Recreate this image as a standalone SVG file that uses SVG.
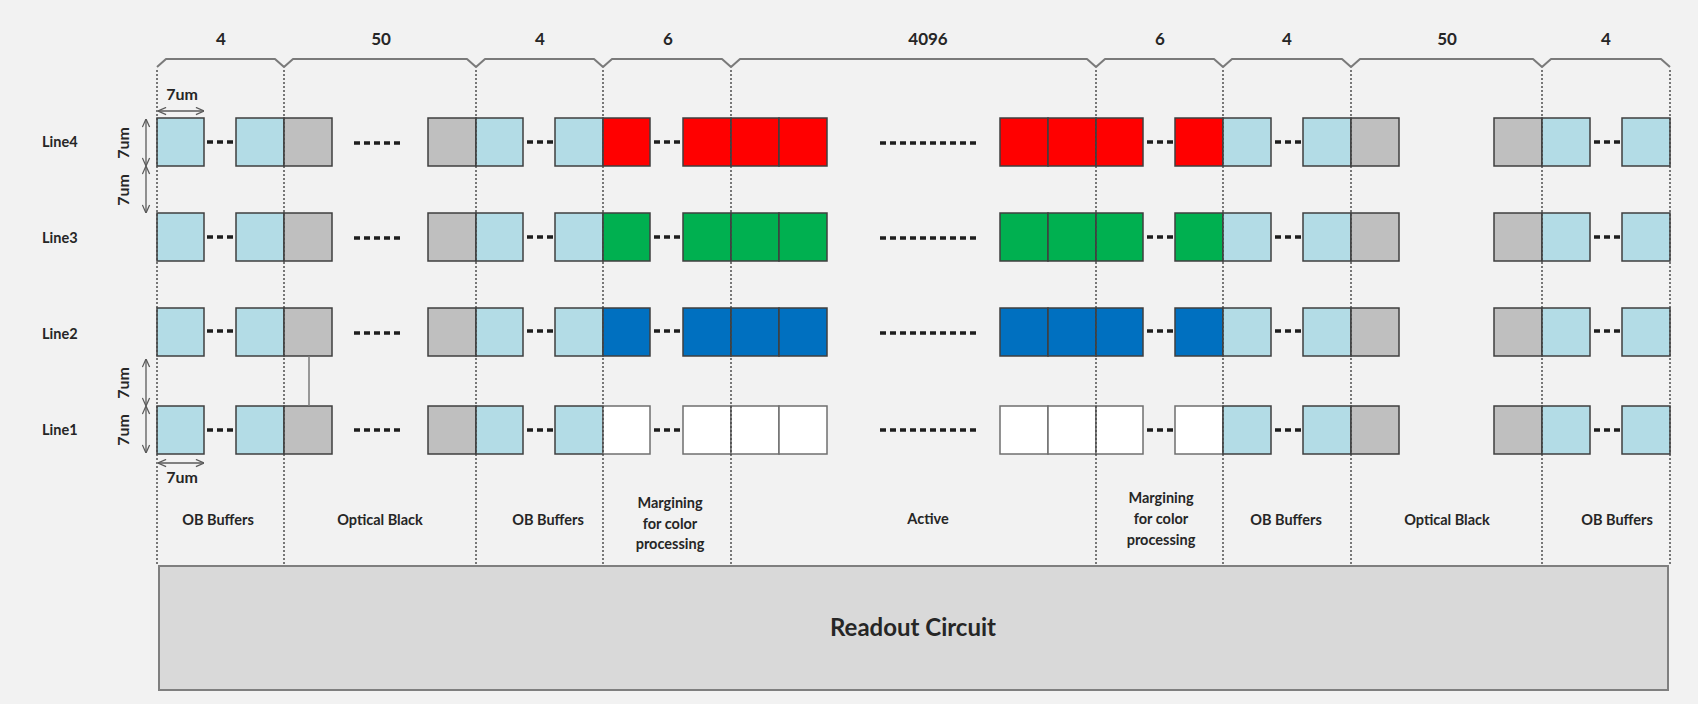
<svg xmlns="http://www.w3.org/2000/svg" width="1698" height="704" viewBox="0 0 1698 704">
<style>
  text { font-family: "Lato", "Liberation Sans", sans-serif; font-weight: bold; fill: #262626; }
  .num { font-size: 17px; text-anchor: middle; }
  .lbl { font-size: 14.5px; text-anchor: middle; }
  .line { font-size: 14.5px; }
  .um { font-size: 16px; text-anchor: middle; }
  .big { font-size: 24px; text-anchor: middle; }
  .cell { stroke: #3f3f3f; stroke-width: 1.5; }
  .ob { fill: #B3DCE6; }
  .blk { fill: #BFBFBF; }
  .r { fill: #FF0000; }
  .g { fill: #00B050; }
  .b { fill: #0070C0; }
  .w { fill: #FFFFFF; stroke: #6f6f6f; }
  .dash { stroke: #1e1e1e; stroke-width: 3.5; stroke-dasharray: 6 4; }
  .div { stroke: #444; stroke-width: 1.4; stroke-dasharray: 2 2; fill: none; }
  .meas { stroke: #5a5a5a; stroke-width: 1.3; fill: none; marker-start: url(#ah); marker-end: url(#ah); }
</style>
<defs>
  <marker id="ah" viewBox="0 0 10 10" refX="10" refY="5" markerWidth="9" markerHeight="9" orient="auto-start-reverse" markerUnits="userSpaceOnUse">
    <path d="M1,1 L10,5 L1,9" fill="none" stroke="#5a5a5a" stroke-width="1.4"/>
  </marker>
</defs>
<rect x="0" y="0" width="1698" height="704" fill="#F2F2F2"/>

<!-- top brace -->
<g id="brace">
  <path d="M157,67 L166,59 L275,59 L284,67 L293,59 L467,59 L476,67 L485,59 L594,59 L603,67 L612,59 L722,59 L731,67 L740,59 L1087,59 L1096,67 L1105,59 L1214,59 L1223,67 L1232,59 L1342,59 L1351,67 L1360,59 L1533,59 L1542,67 L1551,59 L1661,59 L1670,67" fill="none" stroke="#7a7a7a" stroke-width="2" stroke-linejoin="round"/>
  <text class="num" x="221" y="45">4</text>
  <text class="num" x="381" y="45">50</text>
  <text class="num" x="540" y="45">4</text>
  <text class="num" x="668" y="45">6</text>
  <text class="num" x="928" y="45">4096</text>
  <text class="num" x="1160" y="45">6</text>
  <text class="num" x="1287" y="45">4</text>
  <text class="num" x="1447" y="45">50</text>
  <text class="num" x="1606" y="45">4</text>
</g>

<!-- readout -->
<g id="readout">
  <rect x="159" y="566" width="1509" height="124" fill="#D9D9D9" stroke="#7f7f7f" stroke-width="2"/>
  <text class="big" x="913" y="636">Readout Circuit</text>
</g>

<!-- row labels -->
<g id="row-labels">
  <text class="line" x="42" y="147">Line4</text>
  <text class="line" x="42" y="243">Line3</text>
  <text class="line" x="42" y="339">Line2</text>
  <text class="line" x="42" y="435">Line1</text>
</g>

<!-- rows -->
<g id="line4">
  <rect class="cell ob" x="157" y="118" width="47" height="48"/>
  <rect class="cell ob" x="236" y="118" width="48" height="48"/>
  <rect class="cell blk" x="284" y="118" width="48" height="48"/>
  <rect class="cell blk" x="428" y="118" width="48" height="48"/>
  <rect class="cell ob" x="476" y="118" width="47" height="48"/>
  <rect class="cell ob" x="555" y="118" width="48" height="48"/>
  <rect class="cell r" x="603" y="118" width="47" height="48"/>
  <rect class="cell r" x="683" y="118" width="48" height="48"/>
  <rect class="cell r" x="731" y="118" width="48" height="48"/>
  <rect class="cell r" x="779" y="118" width="48" height="48"/>
  <rect class="cell r" x="1000" y="118" width="48" height="48"/>
  <rect class="cell r" x="1048" y="118" width="48" height="48"/>
  <rect class="cell r" x="1096" y="118" width="47" height="48"/>
  <rect class="cell r" x="1175" y="118" width="48" height="48"/>
  <rect class="cell ob" x="1223" y="118" width="48" height="48"/>
  <rect class="cell ob" x="1303" y="118" width="48" height="48"/>
  <rect class="cell blk" x="1351" y="118" width="48" height="48"/>
  <rect class="cell blk" x="1494" y="118" width="48" height="48"/>
  <rect class="cell ob" x="1542" y="118" width="48" height="48"/>
  <rect class="cell ob" x="1622" y="118" width="48" height="48"/>
</g>
<g id="line3">
  <rect class="cell ob" x="157" y="213" width="47" height="48"/>
  <rect class="cell ob" x="236" y="213" width="48" height="48"/>
  <rect class="cell blk" x="284" y="213" width="48" height="48"/>
  <rect class="cell blk" x="428" y="213" width="48" height="48"/>
  <rect class="cell ob" x="476" y="213" width="47" height="48"/>
  <rect class="cell ob" x="555" y="213" width="48" height="48"/>
  <rect class="cell g" x="603" y="213" width="47" height="48"/>
  <rect class="cell g" x="683" y="213" width="48" height="48"/>
  <rect class="cell g" x="731" y="213" width="48" height="48"/>
  <rect class="cell g" x="779" y="213" width="48" height="48"/>
  <rect class="cell g" x="1000" y="213" width="48" height="48"/>
  <rect class="cell g" x="1048" y="213" width="48" height="48"/>
  <rect class="cell g" x="1096" y="213" width="47" height="48"/>
  <rect class="cell g" x="1175" y="213" width="48" height="48"/>
  <rect class="cell ob" x="1223" y="213" width="48" height="48"/>
  <rect class="cell ob" x="1303" y="213" width="48" height="48"/>
  <rect class="cell blk" x="1351" y="213" width="48" height="48"/>
  <rect class="cell blk" x="1494" y="213" width="48" height="48"/>
  <rect class="cell ob" x="1542" y="213" width="48" height="48"/>
  <rect class="cell ob" x="1622" y="213" width="48" height="48"/>
</g>
<g id="line2">
  <rect class="cell ob" x="157" y="308" width="47" height="48"/>
  <rect class="cell ob" x="236" y="308" width="48" height="48"/>
  <rect class="cell blk" x="284" y="308" width="48" height="48"/>
  <rect class="cell blk" x="428" y="308" width="48" height="48"/>
  <rect class="cell ob" x="476" y="308" width="47" height="48"/>
  <rect class="cell ob" x="555" y="308" width="48" height="48"/>
  <rect class="cell b" x="603" y="308" width="47" height="48"/>
  <rect class="cell b" x="683" y="308" width="48" height="48"/>
  <rect class="cell b" x="731" y="308" width="48" height="48"/>
  <rect class="cell b" x="779" y="308" width="48" height="48"/>
  <rect class="cell b" x="1000" y="308" width="48" height="48"/>
  <rect class="cell b" x="1048" y="308" width="48" height="48"/>
  <rect class="cell b" x="1096" y="308" width="47" height="48"/>
  <rect class="cell b" x="1175" y="308" width="48" height="48"/>
  <rect class="cell ob" x="1223" y="308" width="48" height="48"/>
  <rect class="cell ob" x="1303" y="308" width="48" height="48"/>
  <rect class="cell blk" x="1351" y="308" width="48" height="48"/>
  <rect class="cell blk" x="1494" y="308" width="48" height="48"/>
  <rect class="cell ob" x="1542" y="308" width="48" height="48"/>
  <rect class="cell ob" x="1622" y="308" width="48" height="48"/>
</g>
<g id="line1">
  <rect class="cell ob" x="157" y="406" width="47" height="48"/>
  <rect class="cell ob" x="236" y="406" width="48" height="48"/>
  <rect class="cell blk" x="284" y="406" width="48" height="48"/>
  <rect class="cell blk" x="428" y="406" width="48" height="48"/>
  <rect class="cell ob" x="476" y="406" width="47" height="48"/>
  <rect class="cell ob" x="555" y="406" width="48" height="48"/>
  <rect class="cell w" x="603" y="406" width="47" height="48"/>
  <rect class="cell w" x="683" y="406" width="48" height="48"/>
  <rect class="cell w" x="731" y="406" width="48" height="48"/>
  <rect class="cell w" x="779" y="406" width="48" height="48"/>
  <rect class="cell w" x="1000" y="406" width="48" height="48"/>
  <rect class="cell w" x="1048" y="406" width="48" height="48"/>
  <rect class="cell w" x="1096" y="406" width="47" height="48"/>
  <rect class="cell w" x="1175" y="406" width="48" height="48"/>
  <rect class="cell ob" x="1223" y="406" width="48" height="48"/>
  <rect class="cell ob" x="1303" y="406" width="48" height="48"/>
  <rect class="cell blk" x="1351" y="406" width="48" height="48"/>
  <rect class="cell blk" x="1494" y="406" width="48" height="48"/>
  <rect class="cell ob" x="1542" y="406" width="48" height="48"/>
  <rect class="cell ob" x="1622" y="406" width="48" height="48"/>
</g>

<!-- ellipsis dashes -->
<g id="ellipses">
  <g id="dash-row4">
    <line class="dash" x1="207" y1="142" x2="233" y2="142"/>
    <line class="dash" x1="354" y1="143" x2="400" y2="143"/>
    <line class="dash" x1="527" y1="142" x2="553" y2="142"/>
    <line class="dash" x1="654" y1="142" x2="680" y2="142"/>
    <line class="dash" x1="880" y1="143" x2="976" y2="143"/>
    <line class="dash" x1="1147" y1="142" x2="1173" y2="142"/>
    <line class="dash" x1="1275" y1="142" x2="1301" y2="142"/>
    <line class="dash" x1="1594" y1="142" x2="1620" y2="142"/>
  </g>
  <g id="dash-row3">
    <line class="dash" x1="207" y1="237" x2="233" y2="237"/>
    <line class="dash" x1="354" y1="238" x2="400" y2="238"/>
    <line class="dash" x1="527" y1="237" x2="553" y2="237"/>
    <line class="dash" x1="654" y1="237" x2="680" y2="237"/>
    <line class="dash" x1="880" y1="238" x2="976" y2="238"/>
    <line class="dash" x1="1147" y1="237" x2="1173" y2="237"/>
    <line class="dash" x1="1275" y1="237" x2="1301" y2="237"/>
    <line class="dash" x1="1594" y1="237" x2="1620" y2="237"/>
  </g>
  <g id="dash-row2">
    <line class="dash" x1="207" y1="331" x2="233" y2="331"/>
    <line class="dash" x1="354" y1="333" x2="400" y2="333"/>
    <line class="dash" x1="527" y1="331" x2="553" y2="331"/>
    <line class="dash" x1="654" y1="331" x2="680" y2="331"/>
    <line class="dash" x1="880" y1="333" x2="976" y2="333"/>
    <line class="dash" x1="1147" y1="331" x2="1173" y2="331"/>
    <line class="dash" x1="1275" y1="331" x2="1301" y2="331"/>
    <line class="dash" x1="1594" y1="331" x2="1620" y2="331"/>
  </g>
  <g id="dash-row1">
    <line class="dash" x1="207" y1="430" x2="233" y2="430"/>
    <line class="dash" x1="354" y1="430" x2="400" y2="430"/>
    <line class="dash" x1="527" y1="430" x2="553" y2="430"/>
    <line class="dash" x1="654" y1="430" x2="680" y2="430"/>
    <line class="dash" x1="880" y1="430" x2="976" y2="430"/>
    <line class="dash" x1="1147" y1="430" x2="1173" y2="430"/>
    <line class="dash" x1="1275" y1="430" x2="1301" y2="430"/>
    <line class="dash" x1="1594" y1="430" x2="1620" y2="430"/>
  </g>
</g>

<!-- section dividers -->
<g id="dividers">
  <line class="div" x1="157" y1="70" x2="157" y2="566"/>
  <line class="div" x1="284" y1="70" x2="284" y2="566"/>
  <line class="div" x1="476" y1="70" x2="476" y2="566"/>
  <line class="div" x1="603" y1="70" x2="603" y2="566"/>
  <line class="div" x1="731" y1="70" x2="731" y2="566"/>
  <line class="div" x1="1096" y1="70" x2="1096" y2="566"/>
  <line class="div" x1="1223" y1="70" x2="1223" y2="566"/>
  <line class="div" x1="1351" y1="70" x2="1351" y2="566"/>
  <line class="div" x1="1542" y1="70" x2="1542" y2="566"/>
  <line class="div" x1="1670" y1="70" x2="1670" y2="566"/>
</g>

<!-- connectors / measurements -->
<g id="connectors">
  <line x1="309" y1="356" x2="309" y2="406" stroke="#7a7a7a" stroke-width="1.5"/>
  <line class="meas" x1="158" y1="111" x2="204" y2="111"/>
  <line class="meas" x1="158" y1="463" x2="204" y2="463"/>
  <line class="meas" x1="146" y1="119" x2="146" y2="166"/>
  <line class="meas" x1="146" y1="166" x2="146" y2="213"/>
  <line class="meas" x1="146" y1="359" x2="146" y2="406"/>
  <line class="meas" x1="146" y1="406" x2="146" y2="453"/>
</g>

<!-- measurement labels -->
<g id="measure-labels">
  <text class="um" x="182" y="100">7um</text>
  <text class="um" x="182" y="483">7um</text>
  <text class="um" transform="translate(129,143) rotate(-90)">7um</text>
  <text class="um" transform="translate(129,190) rotate(-90)">7um</text>
  <text class="um" transform="translate(129,383) rotate(-90)">7um</text>
  <text class="um" transform="translate(129,430) rotate(-90)">7um</text>
</g>

<!-- section labels -->
<g id="section-labels">
  <text class="lbl" x="218" y="525">OB Buffers</text>
  <text class="lbl" x="380" y="525">Optical Black</text>
  <text class="lbl" x="548" y="525">OB Buffers</text>
  <text class="lbl" x="670" y="508">Margining</text>
  <text class="lbl" x="670" y="529">for color</text>
  <text class="lbl" x="670" y="549">processing</text>
  <text class="lbl" x="928" y="524">Active</text>
  <text class="lbl" x="1161" y="503">Margining</text>
  <text class="lbl" x="1161" y="524">for color</text>
  <text class="lbl" x="1161" y="545">processing</text>
  <text class="lbl" x="1286" y="525">OB Buffers</text>
  <text class="lbl" x="1447" y="525">Optical Black</text>
  <text class="lbl" x="1617" y="525">OB Buffers</text>
</g>
</svg>
